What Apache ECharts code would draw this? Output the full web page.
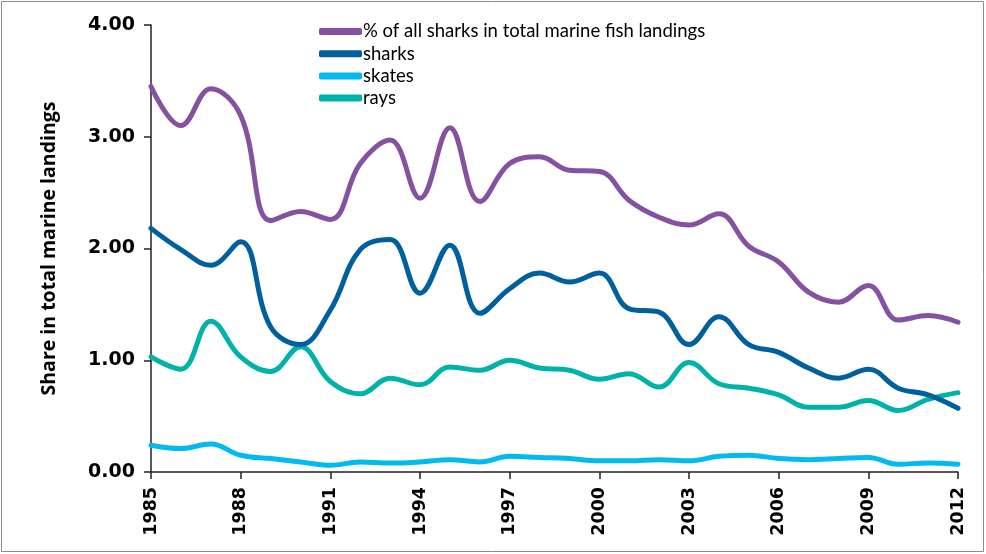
<!DOCTYPE html>
<html><head><meta charset="utf-8">
<script src="https://cdn.jsdelivr.net/npm/echarts@6/dist/echarts.min.js"></script>
<style>html,body{margin:0;padding:0;background:#fff}#c{width:986px;height:554px}</style>
</head><body><div id="c"></div>
<script>
const years = ['1985','1986','1987','1988','1989','1990','1991','1992','1993','1994','1995','1996','1997','1998','1999','2000','2001','2002','2003','2004','2005','2006','2007','2008','2009','2010','2011','2012'];
const allSharks = [3.45,3.10,3.43,3.19,2.25,2.33,2.26,2.76,2.97,2.45,3.08,2.42,2.76,2.82,2.70,2.69,2.43,2.28,2.21,2.31,2.02,1.88,1.61,1.52,1.67,1.36,1.40,1.34];
const sharks = [2.18,1.99,1.85,2.06,1.30,1.14,1.45,1.99,2.08,1.60,2.03,1.42,1.64,1.78,1.70,1.78,1.46,1.43,1.14,1.39,1.14,1.07,0.93,0.84,0.92,0.75,0.69,0.57];
const skates = [0.24,0.21,0.25,0.15,0.12,0.09,0.06,0.09,0.08,0.09,0.11,0.09,0.14,0.13,0.12,0.10,0.10,0.11,0.10,0.14,0.15,0.12,0.11,0.12,0.13,0.07,0.08,0.07];
const rays = [1.03,0.92,1.35,1.03,0.90,1.12,0.81,0.70,0.84,0.78,0.94,0.91,1.00,0.93,0.91,0.83,0.88,0.76,0.98,0.79,0.75,0.69,0.58,0.58,0.64,0.55,0.65,0.71];
const names = ['% of all sharks in total marine fish landings','sharks','skates','rays'];
const colors = ['#8551A1','#00609E','#00BAF0','#00B3A8'];
const font = 'Lato, "Liberation Sans", sans-serif';
const titleFont = '"Open Sans", Lato, sans-serif';
const tickFont = '"DejaVu Sans", Verdana, sans-serif';
const chart = echarts.init(document.getElementById('c'));
const mk = (name, data, color, z) => ({
  name, type:'line', data, smooth:0.4, symbol:'none', z,
  lineStyle:{color, width:5, cap:'round', join:'round'}, itemStyle:{color}
});
chart.setOption({
  animation:false,
  color: colors,
  graphic:[{type:'rect', shape:{x:1.5,y:1.5,width:982,height:550}, style:{fill:'none', stroke:'#8c8c8c', lineWidth:1}, silent:true}],
  legend:{
    orient:'vertical', left:314, top:17, itemGap:3.2, itemWidth:43, itemHeight:7,
    icon:'roundRect',
    textStyle:{fontFamily:font, fontSize:18.5, lineHeight:18.8, color:'#000', padding:[0,0,0,-4]},
    data:names
  },
  grid:{left:151, right:28, top:25, bottom:82, containLabel:false},
  xAxis:{
    type:'category', data:years, boundaryGap:false,
    axisLine:{lineStyle:{color:'#222', width:1.5}},
    axisTick:{interval:2, length:7, lineStyle:{color:'#222', width:1.5}},
    axisLabel:{interval:2, rotate:90, fontFamily:tickFont, fontSize:17.5, fontWeight:'bold', color:'#000', margin:15}
  },
  yAxis:{
    type:'value', min:0, max:4, interval:1,
    name:'Share in total marine landings', nameLocation:'middle', nameGap:92, nameRotate:90,
    nameTextStyle:{fontFamily:titleFont, fontSize:19.5, fontWeight:'bold', color:'#000'},
    axisLine:{show:true, lineStyle:{color:'#222', width:1.5}},
    axisTick:{show:true, length:7, lineStyle:{color:'#222', width:1.5}},
    splitLine:{show:false},
    axisLabel:{fontFamily:tickFont, fontSize:19, fontWeight:'bold', color:'#000', margin:16, formatter:v=>v.toFixed(2)}
  },
  series:[
    mk(names[0], allSharks, colors[0], 4),
    mk(names[1], sharks, colors[1], 3),
    mk(names[2], skates, colors[2], 2),
    mk(names[3], rays, colors[3], 1)
  ]
});
</script></body></html>
